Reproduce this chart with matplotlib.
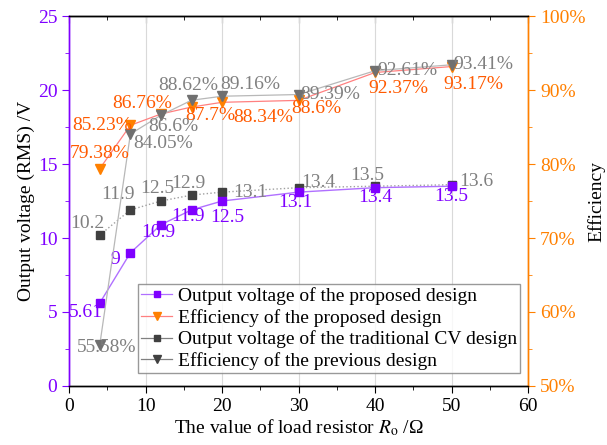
import matplotlib
matplotlib.use("Agg")
import matplotlib.pyplot as plt
from matplotlib.ticker import MultipleLocator, FuncFormatter
from matplotlib.lines import Line2D

plt.rcParams['font.family'] = ['Liberation Serif', 'DejaVu Serif']
plt.rcParams['mathtext.fontset'] = 'stix'

# ---- data ----
resistance = [4, 8, 12, 16, 20, 30, 40, 50]
v_proposed = [5.61, 9, 10.9, 11.9, 12.5, 13.1, 13.4, 13.5]
v_traditional = [10.2, 11.9, 12.5, 12.9, 13.1, 13.4, 13.5, 13.6]
eff_proposed = [79.38, 85.23, 86.76, 87.7, 88.34, 88.6, 92.37, 93.17]
eff_previous = [55.58, 84.05, 86.6, 88.62, 89.16, 89.39, 92.61, 93.41]
legend_labels = ["Output voltage of the proposed design",
                 "Efficiency of the proposed design",
                 "Output voltage of the traditional CV design",
                 "Efficiency of the previous design"]

# label offsets (pixels, x right, y up)
off_vp = [(-14, -10), (-15, -7), (-3, -8), (-4, -7), (5, -16), (-3, -10), (0, -10), (0, -10)]
off_vt = [(-12, 12), (-12, 15), (-4, 13), (-3, 12), (28, 0), (20, 5), (-8, 11), (25, 3)]
off_ep = [(0, 15), (-28, 0), (-19, 10), (19, -8), (41, -15), (18, -8), (23, -16), (22, -18)]
off_eo = [(7, -3), (33, -9), (12, -11), (-3, 15), (28, 12), (32, 0), (32, 0), (32, 0)]

PURPLE = '#7F00FF'
ORANGE = '#FF8000'
LABEL_OR = '#FF5A00'
FS = 14

fig = plt.figure(figsize=(6.07, 4.45), dpi=100)
ax = fig.add_axes([0.114, 0.1326, 0.756, 0.8314])
ax2 = ax.twinx()

# grid
ax.set_xlim(0, 60)
ax.set_ylim(0, 25)
ax2.set_ylim(50, 100)
ax.xaxis.set_major_locator(MultipleLocator(10))
ax.xaxis.set_minor_locator(MultipleLocator(5))
ax.grid(axis='x', color='#d9d9d9', linewidth=0.8)
ax.set_axisbelow(True)

# voltage series
ax.plot(resistance, v_traditional, linestyle=':', color='#a0a0a0', linewidth=1,
        marker='s', markersize=6, markerfacecolor='#404040', markeredgecolor='#404040')
ax.plot(resistance, v_proposed, linestyle='-', color='#B070FF', linewidth=1,
        marker='s', markersize=6, markerfacecolor=PURPLE, markeredgecolor=PURPLE)

# efficiency series
ax2.plot(resistance, eff_proposed, linestyle='-', color='#FF8080', linewidth=0.9,
         marker='v', markersize=7, markerfacecolor=ORANGE, markeredgecolor=ORANGE)
ax2.plot(resistance, eff_previous, linestyle='-', color='#b8b8b8', linewidth=0.9,
         marker='v', markersize=7, markerfacecolor='#707070', markeredgecolor='#707070')

def lab(axis, xs, ys, offs, fmt, color):
    for x, y, o in zip(xs, ys, offs):
        axis.annotate(fmt(y), xy=(x, y), xytext=o, textcoords='offset pixels',
                      ha='center', va='center', color=color, fontsize=FS)

lab(ax, resistance, v_proposed, off_vp, lambda v: f"{v:g}", PURPLE)
lab(ax, resistance, v_traditional, off_vt, lambda v: f"{v:g}", '#808080')
lab(ax2, resistance, eff_proposed, off_ep, lambda v: f"{v:g}%", LABEL_OR)
lab(ax2, resistance, eff_previous, off_eo, lambda v: f"{v:g}%", '#808080')

# axes styling
ax.yaxis.set_major_locator(MultipleLocator(5))
ax.yaxis.set_minor_locator(MultipleLocator(2.5))
ax2.yaxis.set_major_locator(MultipleLocator(10))
ax2.yaxis.set_minor_locator(MultipleLocator(5))
ax2.yaxis.set_major_formatter(FuncFormatter(lambda v, p: f"{v:.0f}%"))

ax.tick_params(axis='x', which='both', direction='out', labelsize=FS, colors='black')
ax.tick_params(axis='x', which='major', length=5)
ax.tick_params(axis='x', which='minor', length=3)
top = ax.secondary_xaxis('top')
top.xaxis.set_major_locator(MultipleLocator(10))
top.xaxis.set_minor_locator(MultipleLocator(5))
top.tick_params(which='both', direction='in', labeltop=False)
top.tick_params(which='major', length=5)
top.tick_params(which='minor', length=3)
ax.tick_params(axis='y', which='both', direction='out', colors=PURPLE, labelsize=FS)
ax.tick_params(axis='y', which='major', length=5)
ax.tick_params(axis='y', which='minor', length=3)
ax2.tick_params(axis='y', which='both', direction='out', colors=ORANGE, labelsize=FS)
ax2.tick_params(axis='y', which='major', length=5)
ax2.tick_params(axis='y', which='minor', length=3)

ax2.spines['left'].set_color(PURPLE)
ax2.spines['right'].set_color(ORANGE)
ax.spines['left'].set_color(PURPLE)
ax.spines['right'].set_color(ORANGE)
for a in (ax, ax2):
    for s in a.spines.values():
        s.set_linewidth(1.0)

ax.set_xlabel(r"The value of load resistor $R_{\mathrm{o}}$ /Ω", fontsize=FS, labelpad=2)
ax.set_ylabel("Output voltage (RMS) /V", fontsize=FS, labelpad=2)
ax2.set_ylabel("Efficiency", fontsize=FS, va='center')
ax2.yaxis.set_label_coords(1.148, 0.5)

handles = [
    Line2D([], [], color='#B070FF', lw=0.9, marker='s', markersize=4.5, markerfacecolor=PURPLE, markeredgecolor=PURPLE),
    Line2D([], [], color='#FF8080', lw=0.9, marker='v', markersize=5.5, markerfacecolor=ORANGE, markeredgecolor=ORANGE),
    Line2D([], [], color='#808080', lw=0.9, marker='s', markersize=4.5, markerfacecolor='#404040', markeredgecolor='#404040'),
    Line2D([], [], color='#808080', lw=0.9, marker='v', markersize=5.5, markerfacecolor='#404040', markeredgecolor='#404040'),
]
leg = ax2.legend(handles, legend_labels, loc='lower left', bbox_to_anchor=(0.15, 0.035),
                 fontsize=FS, frameon=True, fancybox=False, edgecolor='#808080',
                 handlelength=1.6, handletextpad=0.3, borderpad=0.15, labelspacing=0.2,
                 borderaxespad=0)
leg.get_frame().set_linewidth(1.0)

fig.savefig("out.png", dpi=100)
